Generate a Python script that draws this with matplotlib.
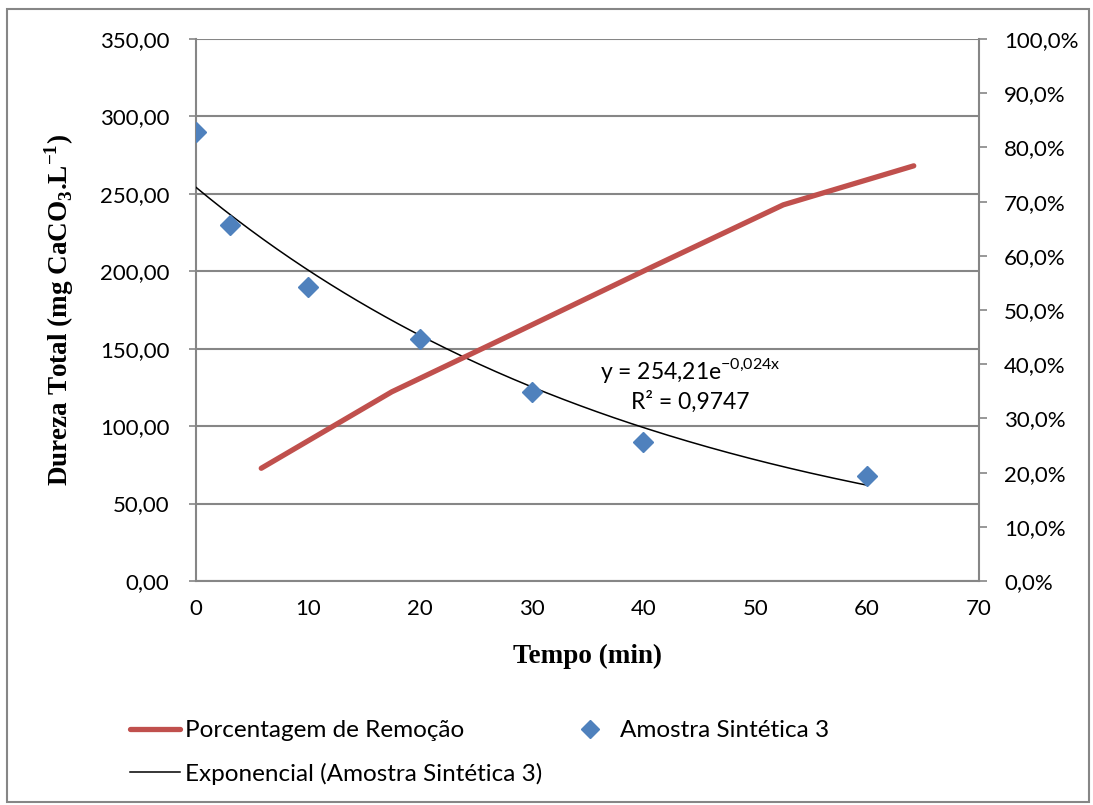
import numpy as np
import matplotlib
matplotlib.use('Agg')
import matplotlib.pyplot as plt
from matplotlib.lines import Line2D
from matplotlib.patches import Rectangle

# dados
tempo = [0, 3, 10, 20, 30, 40, 60]
dureza = [290, 230, 190, 156, 122, 90, 68]

# série no eixo secundário (eixo de categorias oculto)
categorias = [1, 2, 3, 4, 5, 6]
remocao = [20.8, 34.9, 46.4, 58.0, 69.4, 76.6]

y_ticks = [0, 50, 100, 150, 200, 250, 300, 350]
y2_ticks = [0, 10, 20, 30, 40, 50, 60, 70, 80, 90, 100]
x_ticks = [0, 10, 20, 30, 40, 50, 60, 70]

FONT = 'Lato'
SERIF = 'Liberation Serif'
GRAY = '#868686'
RED = '#C0504D'
BLUE = '#4F81BD'
FS = 16

# ajuste exponencial (linha de tendência)
b, a = np.polyfit(tempo, np.log(dureza), 1)
A = np.exp(a)
xf = np.linspace(min(tempo), max(tempo), 200)
yf = A * np.exp(b * xf)
pred = A * np.exp(b * np.array(tempo))

W, H = 1093, 805
fig = plt.figure(figsize=(W / 100, H / 100), dpi=100)
ax = fig.add_axes([196 / W, 1 - 581 / H, (979 - 196) / W, (581 - 39) / H])

ax.plot(xf, yf, color='black', lw=1.1, zorder=3)
ax.plot(tempo, dureza, linestyle='none', marker='D', ms=10, color=BLUE,
        markeredgecolor=BLUE, zorder=4)

ax.set_xlim(0, 70)
ax.set_ylim(0, 350)
ax.set_xticks(x_ticks)
ax.set_yticks(y_ticks)
ax.set_yticklabels([f'{v:.2f}'.replace('.', ',') for v in y_ticks],
                   fontfamily=FONT, fontsize=FS)
ax.set_xticklabels([str(v) for v in x_ticks], fontfamily=FONT, fontsize=FS)
ax.tick_params(axis='x', length=0, pad=13)
ax.tick_params(axis='y', length=5, color=GRAY, width=1.2, pad=14)
ax.grid(axis='y', color=GRAY, lw=1.5)
ax.set_axisbelow(True)
for s in ['top', 'right']:
    ax.spines[s].set_visible(False)
for s in ['left', 'bottom']:
    ax.spines[s].set_color(GRAY)
    ax.spines[s].set_linewidth(1.5)

ax.set_xlabel('Tempo (min)', fontfamily=SERIF, fontweight='bold', fontsize=19.5, labelpad=18)
ax.set_ylabel(r'Dureza Total (mg CaCO$_\mathregular{3}$.L$^\mathregular{-1}$)',
              fontfamily=SERIF, fontweight='bold', fontsize=19.5, labelpad=17)

# eixo secundário (%)
ax2 = ax.twinx()
ax2.set_ylim(0, 100)
ax2.set_yticks(y2_ticks)
ax2.set_yticklabels([f'{v:.1f}'.replace('.', ',') + '%' for v in y2_ticks],
                    fontfamily=FONT, fontsize=FS)
ax2.tick_params(axis='y', length=6, color=GRAY, width=1.2, pad=12)
for s in ['top', 'left', 'bottom']:
    ax2.spines[s].set_visible(False)
ax2.spines['right'].set_color(GRAY)
ax2.spines['right'].set_linewidth(1.5)

ax3 = ax2.twiny()
ax3.set_xlim(0.5, len(categorias) + 0.5)
ax3.plot(categorias, remocao, color=RED, lw=3.8, solid_capstyle='round', zorder=5)
ax3.set_xticks([])
for s in ax3.spines.values():
    s.set_visible(False)

# equação
ax.text(690 / W, 1 - 370 / H,
        r'y = 254,21e$^\mathregular{-0{,}024x}$'.replace('254,21', f'{A:.2f}'.replace('.', ',')),
        transform=fig.transFigure, ha='center', va='center', fontfamily=FONT, fontsize=16.5)
r2 = 1 - np.sum((np.log(dureza) - np.log(pred)) ** 2) / np.sum((np.log(dureza) - np.mean(np.log(dureza))) ** 2)
ax.text(690 / W, 1 - 402 / H, f'R² = {r2:.4f}'.replace('.', ','),
        transform=fig.transFigure, ha='center', va='center', fontfamily=FONT, fontsize=16.5)

# legenda
handles = [
    Line2D([], [], color=RED, lw=3.8, solid_capstyle='round'),
    Line2D([], [], color='black', lw=1.1),
    Line2D([], [], linestyle='none', marker='D', ms=9, color=BLUE),
]
labels = ['Porcentagem de Remoção', 'Exponencial (Amostra Sintética 3)', 'Amostra Sintética 3']
fig.legend(handles, labels, ncol=2, loc='upper left', bbox_to_anchor=(130 / W, 1 - 720 / H),
           frameon=False, prop={'family': FONT, 'size': 17.5}, handlelength=2.06,
           handletextpad=0.2, labelspacing=0.9, columnspacing=0.95, borderpad=0,
           borderaxespad=0)

# moldura do gráfico
fig.patches.append(Rectangle((7 / W, 1 - 802 / H), (1089 - 7) / W, (802 - 9) / H,
                             transform=fig.transFigure, fill=False, edgecolor=GRAY, lw=1.5))

fig.savefig('out.png', dpi=100)
